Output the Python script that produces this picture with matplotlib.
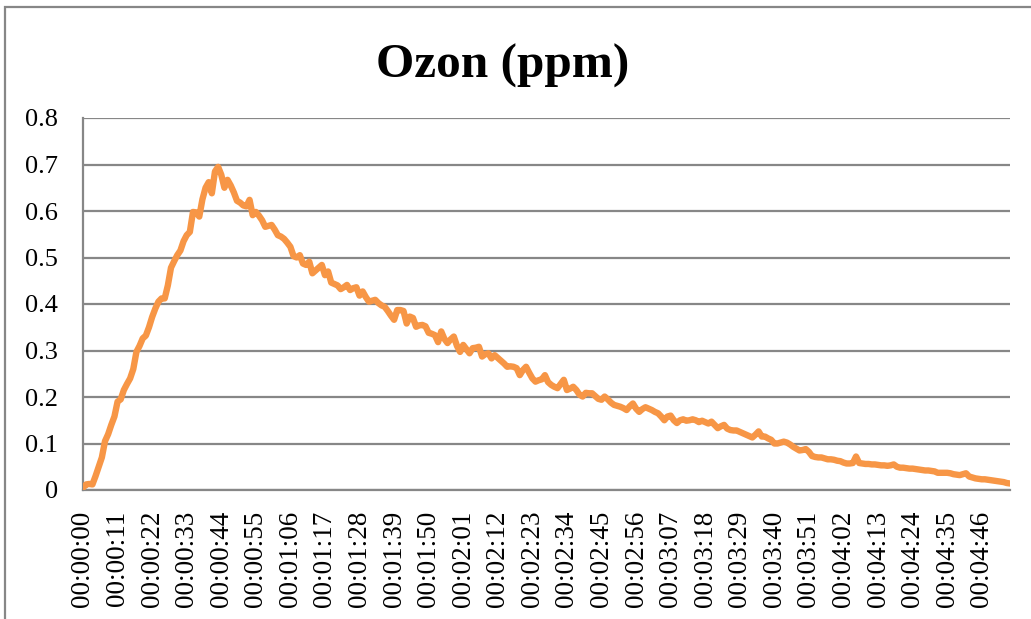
import matplotlib
matplotlib.use('Agg')
import matplotlib.pyplot as plt
from matplotlib.patches import Rectangle

# ozone reading, one sample per second (00:00:00 .. 00:04:55)
ozon = [
    0.005, 0.012, 0.013, 0.012, 0.030, 0.050, 0.070, 0.105, 0.120, 0.140,
    0.158, 0.190, 0.195, 0.215, 0.228, 0.240, 0.260, 0.297, 0.310, 0.326,
    0.332, 0.350, 0.372, 0.390, 0.405, 0.412, 0.412, 0.440, 0.478, 0.492,
    0.505, 0.515, 0.535, 0.548, 0.555, 0.598, 0.597, 0.588, 0.625, 0.650,
    0.662, 0.638, 0.685, 0.695, 0.678, 0.650, 0.667, 0.655, 0.640, 0.622,
    0.618, 0.612, 0.610, 0.624, 0.591, 0.598, 0.590, 0.580, 0.566, 0.568,
    0.570, 0.560, 0.548, 0.545, 0.540, 0.532, 0.523, 0.503, 0.500, 0.505,
    0.487, 0.484, 0.491, 0.466, 0.472, 0.478, 0.484, 0.462, 0.470, 0.446,
    0.443, 0.440, 0.432, 0.436, 0.441, 0.430, 0.434, 0.436, 0.418, 0.427,
    0.415, 0.405, 0.407, 0.409, 0.402, 0.397, 0.394, 0.385, 0.375, 0.366,
    0.387, 0.387, 0.385, 0.358, 0.373, 0.370, 0.351, 0.354, 0.355, 0.352,
    0.338, 0.336, 0.333, 0.318, 0.341, 0.325, 0.316, 0.324, 0.330, 0.310,
    0.297, 0.312, 0.303, 0.294, 0.305, 0.306, 0.308, 0.287, 0.292, 0.294,
    0.283, 0.290, 0.284, 0.278, 0.272, 0.265, 0.266, 0.265, 0.262, 0.247,
    0.258, 0.265, 0.252, 0.240, 0.233, 0.236, 0.238, 0.247, 0.232, 0.226,
    0.222, 0.219, 0.228, 0.237, 0.215, 0.218, 0.222, 0.215, 0.205, 0.201,
    0.209, 0.208, 0.208, 0.202, 0.196, 0.194, 0.201, 0.195, 0.188, 0.183,
    0.181, 0.179, 0.176, 0.172, 0.180, 0.186, 0.175, 0.168, 0.174, 0.178,
    0.175, 0.172, 0.168, 0.165, 0.158, 0.150, 0.158, 0.160, 0.150, 0.144,
    0.150, 0.152, 0.149, 0.150, 0.152, 0.150, 0.146, 0.149, 0.146, 0.143,
    0.147, 0.140, 0.133, 0.137, 0.140, 0.132, 0.129, 0.128, 0.128, 0.125,
    0.122, 0.119, 0.116, 0.113, 0.119, 0.126, 0.115, 0.115, 0.111, 0.108,
    0.100, 0.100, 0.102, 0.104, 0.102, 0.098, 0.093, 0.089, 0.085, 0.086,
    0.088, 0.082, 0.073, 0.071, 0.070, 0.070, 0.068, 0.066, 0.066, 0.065,
    0.063, 0.062, 0.059, 0.057, 0.057, 0.058, 0.072, 0.058, 0.057, 0.056,
    0.056, 0.055, 0.055, 0.054, 0.053, 0.053, 0.052, 0.053, 0.055, 0.050,
    0.048, 0.048, 0.047, 0.046, 0.046, 0.045, 0.044, 0.043, 0.042, 0.042,
    0.041, 0.040, 0.037, 0.037, 0.037, 0.037, 0.036, 0.034, 0.033, 0.032,
    0.034, 0.036, 0.029, 0.027, 0.025, 0.024, 0.023, 0.023, 0.022, 0.021,
    0.020, 0.019, 0.018, 0.017, 0.015, 0.014,
]
times = ['00:%02d:%02d' % (s // 60, s % 60) for s in range(len(ozon))]
label_every = 11
y_ticks = [0, 0.1, 0.2, 0.3, 0.4, 0.5, 0.6, 0.7, 0.8]

plt.rcParams['font.family'] = ['Liberation Serif', 'DejaVu Serif']
grey = '#878787'

fig = plt.figure(figsize=(10.31, 6.19), dpi=100)
ax = fig.add_axes([83/1031, 1 - 490/619, (1010 - 83)/1031, (490 - 118)/619])

x = list(range(len(ozon)))
ax.plot(x, ozon, color='#F79646', linewidth=4.6, solid_joinstyle='round',
        solid_capstyle='round', zorder=3)

ax.set_xlim(0, len(ozon) - 1)
ax.set_ylim(0, 0.8)
ax.set_yticks(y_ticks)
ax.set_yticklabels(['0' if v == 0 else '%.1f' % v for v in y_ticks], fontsize=19)
ax.set_xticks(x[::label_every])
ax.set_xticklabels(times[::label_every], rotation=90, fontsize=19.5)
ax.tick_params(axis='both', length=0)
ax.tick_params(axis='y', pad=18)
ax.tick_params(axis='x', pad=15)

ax.grid(axis='y', color=grey, linewidth=1.6)
ax.set_axisbelow(True)
for side in ['top', 'right']:
    ax.spines[side].set_visible(False)
for side in ['left', 'bottom']:
    ax.spines[side].set_color(grey)
    ax.spines[side].set_linewidth(1.6)

fig.text(503/1031, 1 - 66/619, 'Ozon (ppm)', ha='center', va='center',
         fontsize=35.5, fontweight='bold')

# chart frame (only top and left edge visible in the crop)
fig.patches.append(Rectangle((5/1031, -0.1), 1.2, 1 - 7/619 + 0.1,
                             transform=fig.transFigure, fill=False,
                             edgecolor=grey, linewidth=1.6))

fig.savefig('out.png', dpi=100)
